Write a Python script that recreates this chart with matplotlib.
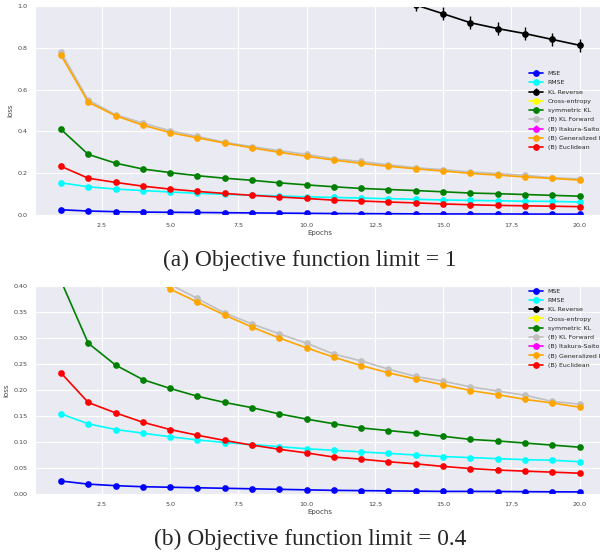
import matplotlib
matplotlib.use("Agg")
import matplotlib.pyplot as plt
import numpy as np
import seaborn as sns

sns.set_style("darkgrid")
plt.rcParams['font.family'] = ['DejaVu Sans']

epochs = np.arange(1, 21)

# losses, one list per objective
mse = [0.025, 0.019, 0.016, 0.014, 0.013, 0.012, 0.011, 0.010, 0.009, 0.008,
       0.007, 0.0065, 0.006, 0.0055, 0.005, 0.005, 0.0048, 0.0045, 0.0042, 0.004]
rmse = [0.154, 0.135, 0.124, 0.117, 0.110, 0.104, 0.099, 0.095, 0.091, 0.087,
        0.084, 0.081, 0.078, 0.075, 0.072, 0.070, 0.068, 0.066, 0.065, 0.062]
kl_reverse = [3.0, 2.3, 2.0, 1.78, 1.62, 1.50, 1.40, 1.32, 1.25, 1.19,
              1.14, 1.09, 1.05, 1.005, 0.963, 0.920, 0.892, 0.868, 0.840, 0.812]
cross_entropy = [np.nan] * 20
sym_kl = [0.410, 0.290, 0.248, 0.220, 0.203, 0.188, 0.176, 0.166, 0.154, 0.144,
          0.135, 0.127, 0.122, 0.117, 0.111, 0.105, 0.102, 0.098, 0.094, 0.090]
kl_forward = [0.780, 0.550, 0.480, 0.440, 0.403, 0.376, 0.348, 0.327, 0.308, 0.290,
              0.269, 0.256, 0.240, 0.226, 0.217, 0.206, 0.198, 0.190, 0.178, 0.173]
itakura = [np.nan] * 20
gen_idiv = [0.765, 0.540, 0.475, 0.430, 0.394, 0.369, 0.344, 0.321, 0.300, 0.281,
            0.263, 0.247, 0.233, 0.221, 0.210, 0.199, 0.191, 0.182, 0.175, 0.167]
euclid = [0.233, 0.176, 0.156, 0.138, 0.124, 0.113, 0.103, 0.094, 0.086, 0.079,
          0.071, 0.067, 0.062, 0.058, 0.053, 0.049, 0.046, 0.044, 0.042, 0.040]

# spread (error bar half height) of each series
err_small = 0.003
err_kl_reverse = 0.03

series = [
    ("MSE", mse, "blue", err_small),
    ("RMSE", rmse, "cyan", err_small),
    ("KL Reverse", kl_reverse, "black", err_kl_reverse),
    ("Cross-entropy", cross_entropy, "yellow", err_small),
    ("symmetric KL", sym_kl, "green", err_small),
    ("(B) KL Forward", kl_forward, "silver", err_small),
    ("(B) Itakura-Saito", itakura, "magenta", err_small),
    ("(B) Generalized I-divergence", gen_idiv, "orange", err_small),
    ("(B) Euclidean", euclid, "red", err_small),
]

W, H = 600, 557
fig = plt.figure(figsize=(W / 100, H / 100), dpi=100)
AX_L, AX_R = 35, 605.5


def panel(top, bottom, ylim, yticks, fmt, leg_loc, leg_y, caption, caption_y):
    ax = fig.add_axes([AX_L / W, 1 - bottom / H, (AX_R - AX_L) / W, (bottom - top) / H])
    for name, vals, col, e in series:
        ax.errorbar(epochs, vals, yerr=e, color=col, marker='o', markersize=3.8,
                    linewidth=1.2, elinewidth=1.0, label=name)
    ax.set_ylim(*ylim)
    ax.set_xlim(0.05, 20.95)
    ax.set_yticks(yticks)
    ax.set_yticklabels([fmt.format(v) for v in yticks])
    ax.set_xticks([2.5, 5.0, 7.5, 10.0, 12.5, 15.0, 17.5, 20.0])
    ax.tick_params(labelsize=4.6, pad=2, colors='#444444')
    ax.set_xlabel("Epochs", fontsize=5, labelpad=2, color='#444444')
    ax.set_ylabel("loss", fontsize=5, labelpad=3, color='#444444')
    ax.legend(loc=leg_loc, bbox_to_anchor=((526.5 - AX_L) / (AX_R - AX_L), leg_y),
              frameon=False, fontsize=4.5, handlelength=2.2, labelspacing=0.62,
              borderaxespad=0, handletextpad=0.8)
    fig.text(310 / W, 1 - caption_y / H, caption, ha='center', va='center',
             family='Liberation Serif', fontsize=16.8)
    return ax


panel(6, 215, (0, 1.0), [0.0, 0.2, 0.4, 0.6, 0.8, 1.0], "{:.1f}",
      'center left', 0.5, "(a) Objective function limit = 1", 260)
panel(286, 494, (0, 0.40), [0.0, 0.05, 0.10, 0.15, 0.20, 0.25, 0.30, 0.35, 0.40],
      "{:.2f}", 'upper left', 1.0, "(b) Objective function limit = 0.4", 539)

fig.savefig("out.png", dpi=100)
